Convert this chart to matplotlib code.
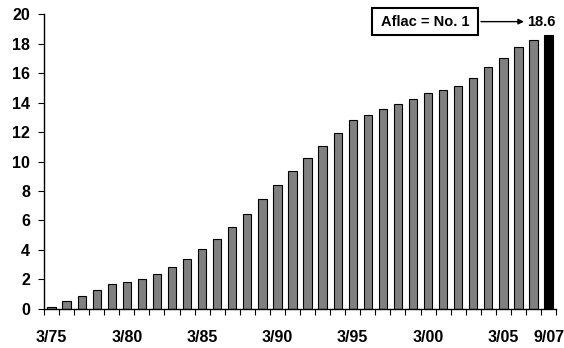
import matplotlib
matplotlib.use("Agg")
import matplotlib.pyplot as plt
from matplotlib.patches import Rectangle

plt.rcParams['font.family'] = ['Liberation Sans', 'DejaVu Sans']
plt.rcParams['font.weight'] = 'bold'

periods = ['3/75', '3/76', '3/77', '3/78', '3/79', '3/80', '3/81', '3/82', '3/83', '3/84',
           '3/85', '3/86', '3/87', '3/88', '3/89', '3/90', '3/91', '3/92', '3/93', '3/94',
           '3/95', '3/96', '3/97', '3/98', '3/99', '3/00', '3/01', '3/02', '3/03', '3/04',
           '3/05', '3/06', '3/07', '9/07']
values = [0.1, 0.5, 0.9, 1.3, 1.68, 1.79, 2.0, 2.38, 2.83, 3.37,
          4.03, 4.73, 5.54, 6.46, 7.45, 8.43, 9.35, 10.23, 11.04, 11.92,
          12.8, 13.19, 13.57, 13.93, 14.22, 14.66, 14.87, 15.14, 15.69, 16.44,
          17.05, 17.77, 18.25, 18.6]
shown_labels = ['3/75', '3/80', '3/85', '3/90', '3/95', '3/00', '3/05', '9/07']
y_ticks = [0, 2, 4, 6, 8, 10, 12, 14, 16, 18, 20]
callout = 'Aflac = No. 1'
last_label = '18.6'

fig = plt.figure(figsize=(5.64, 3.48), dpi=100)
ax = fig.add_axes([0.078, 0.1126, 0.908, 0.8464])

x = list(range(len(values)))
colors = ['#808080'] * (len(values) - 1) + ['#000000']
ax.bar(x, values, width=0.55, color=colors, edgecolor='black', linewidth=0.8)

ax.set_xlim(-0.5, len(values) - 0.5)
ax.set_ylim(0, 20)
ax.set_yticks(y_ticks)
ax.set_yticklabels([str(v) for v in y_ticks], fontsize=11.5, fontweight='bold')

major_pos = [periods.index(p) for p in shown_labels]
ax.set_xticks(major_pos)
ax.set_xticklabels(shown_labels, fontsize=11.5, fontweight='bold')
ax.set_xticks([i - 0.5 for i in range(len(values) + 1)], minor=True)
ax.tick_params(axis='x', which='major', length=0, pad=15)
ax.tick_params(axis='x', which='minor', length=4, width=0.8, direction='out', color='black')
ax.tick_params(axis='y', length=4, width=0.8, direction='out', pad=6)

for s in ['top', 'right']:
    ax.spines[s].set_visible(False)
for s in ['left', 'bottom']:
    ax.spines[s].set_linewidth(1.0)
    ax.spines[s].set_color('black')

# callout box
rect = Rectangle((21.27, 18.6), 7.06, 1.83, facecolor='white', edgecolor='black',
                 linewidth=1.5, clip_on=False, zorder=5)
ax.add_patch(rect)
ax.text(24.8, 19.5, callout, ha='center', va='center', fontsize=10.5,
        fontweight='bold', zorder=6, clip_on=False)
ax.annotate('', xy=(31.55, 19.5), xytext=(28.33, 19.5),
            arrowprops=dict(arrowstyle='-|>', color='black', lw=1.0, mutation_scale=8),
            annotation_clip=False)
ax.text(31.6, 19.5, last_label, ha='left', va='center', fontsize=10.5,
        fontweight='bold', clip_on=False)

fig.savefig('out.png', dpi=100)
